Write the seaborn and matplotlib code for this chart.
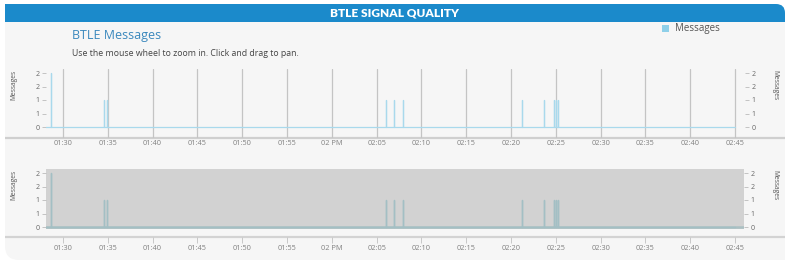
import matplotlib
matplotlib.use("Agg")
import matplotlib.pyplot as plt
from matplotlib.patches import FancyBboxPatch, Rectangle
import seaborn as sns
import pandas as pd

# ---------------- data ----------------
# minutes after 13:00 (1 PM)
series_name = "Messages"
range_start = 28.0
range_end = 105.0
event_minutes = [28.7, 34.6, 34.9, 66.1, 66.9, 68.0, 81.2, 83.7, 84.8, 85.0, 85.3]
event_values = [2, 1, 1, 1, 1, 1, 1, 1, 1, 1, 1]
tick_minutes = [30, 35, 40, 45, 50, 55, 60, 65, 70, 75, 80, 85, 90, 95, 100, 105]
tick_labels = ["01:30", "01:35", "01:40", "01:45", "01:50", "01:55", "02 PM", "02:05",
               "02:10", "02:15", "02:20", "02:25", "02:30", "02:35", "02:40", "02:45"]
y_ticks = [0, 0.5, 1, 1.5, 2]
y_tick_labels = ["0", "1", "1", "2", "2"]

# build line table: baseline with vertical spikes
rows = [(range_start, 0)]
for t, v in zip(event_minutes, event_values):
    rows += [(t, 0), (t, v), (t, 0)]
rows.append((range_end, 0))
df = pd.DataFrame(rows, columns=["minute", "value"])

# ---------------- figure ----------------
sns.set_theme(style="white")
plt.rcParams["font.family"] = ["Open Sans", "DejaVu Sans"]

W, H = 800, 263
fig = plt.figure(figsize=(8, 2.63), dpi=100)
fig.patch.set_facecolor("white")

bg = fig.add_axes([0, 0, 1, 1])
bg.set_xlim(0, W)
bg.set_ylim(H, 0)
bg.axis("off")
bg.set_zorder(-5)

card_col = "#f6f6f6"
blue = "#1b8acb"
# card
bg.add_patch(FancyBboxPatch((5, 4), 780, 256, boxstyle="round,pad=0,rounding_size=14",
                            fc=card_col, ec="none"))
bg.add_patch(Rectangle((5, 4), 20, 20, fc=card_col, ec="none"))
bg.add_patch(Rectangle((765, 240), 20, 20, fc=card_col, ec="none"))
# header
bg.add_patch(FancyBboxPatch((5, 4), 780, 18, boxstyle="round,pad=0,rounding_size=9",
                            fc=blue, ec="none"))
bg.add_patch(Rectangle((5, 4), 20, 18, fc=blue, ec="none"))
bg.add_patch(Rectangle((700, 13), 85, 9, fc=blue, ec="none"))
bg.text(395, 13.5, "BTLE SIGNAL QUALITY", color="white", fontsize=8.6, fontweight="heavy",
        family=["Lato", "DejaVu Sans"], ha="center", va="center")

bg.text(72, 35.5, "BTLE Messages", color="#3a88bd", fontsize=9, ha="left", va="center")
bg.text(72, 53, "Use the mouse wheel to zoom in. Click and drag to pan.", color="#444444",
        fontsize=6.3, ha="left", va="center")

# legend
bg.add_patch(Rectangle((662, 25), 7, 7, fc="#8fd0e9", ec="none"))
bg.text(675, 28.5, series_name, color="#555555", fontsize=7, ha="left", va="center")

# axis lines spanning card
bg.plot([5, 785], [138, 138], color="#cfcfcf", lw=1.6, solid_capstyle="butt")
bg.plot([5, 785], [237, 237], color="#d3d3d3", lw=1.6, solid_capstyle="butt")

# y labels
for yc in (85, 185):
    bg.text(14, yc, series_name, rotation=90, fontsize=4.8, color="#555555",
            ha="center", va="center")
    bg.text(775, yc, series_name, rotation=270, fontsize=4.8, color="#555555",
            ha="center", va="center")


def px_axes(x0, y0, x1, y1):
    return fig.add_axes([x0 / W, 1 - y1 / H, (x1 - x0) / W, (y1 - y0) / H])


def minute_at(px):
    return 30 + (px - 63) / 8.96


def style_y(ax):
    ax.set_yticks(y_ticks)
    ax.set_yticklabels(y_tick_labels)
    ax.tick_params(axis="y", which="both", left=True, right=True, labelleft=True,
                   labelright=True, length=3, width=0.6, color="#bbbbbb",
                   labelsize=5, labelcolor="#666666", pad=1.5)


# ---------------- main chart ----------------
ax1 = px_axes(46, 69, 745, 138)
ax1.set_facecolor("none")
sns.lineplot(data=df, x="minute", y="value", sort=False, estimator=None, ax=ax1,
             color="#a9d9ec", lw=0.9)
ax1.set_xlim(minute_at(46), minute_at(745))
ax1.set_ylim(-(138 - 127) / 27, (127 - 69) / 27)
for s in ax1.spines.values():
    s.set_visible(False)
ax1.set_xticks(tick_minutes)
ax1.set_xticklabels(tick_labels)
ax1.tick_params(axis="x", length=0, labelsize=5.3, labelcolor="#808080", pad=1.2)
ax1.grid(axis="x", color="#c4c4c4", lw=0.9)
ax1.grid(axis="y", visible=False)
style_y(ax1)
ax1.set_xlabel("")
ax1.set_ylabel("")

# ---------------- navigator ----------------
ax2 = px_axes(46, 169, 744, 229)
ax2.set_facecolor("#d2d2d2")
sns.lineplot(data=df, x="minute", y="value", sort=False, estimator=None, ax=ax2,
             color="#a3bfc4", lw=1.0)
ax2.axhline(0, color="#abc0c3", lw=1.8, zorder=1)
ax2.set_xlim(minute_at(46), minute_at(744))
ax2.set_ylim(-(229 - 227) / 27, (227 - 169) / 27)
for s in ax2.spines.values():
    s.set_visible(False)
ax2.spines["bottom"].set_position(("outward", 5.76))
ax2.set_xticks(tick_minutes)
ax2.set_xticklabels(tick_labels)
ax2.tick_params(axis="x", bottom=True, length=4.5, width=0.7, color="#c8c8c8",
                labelsize=5.3, labelcolor="#808080", pad=1.5)
ax2.grid(False)
style_y(ax2)
ax2.set_xlabel("")
ax2.set_ylabel("")

fig.savefig("out.png", dpi=100, facecolor=fig.get_facecolor())
